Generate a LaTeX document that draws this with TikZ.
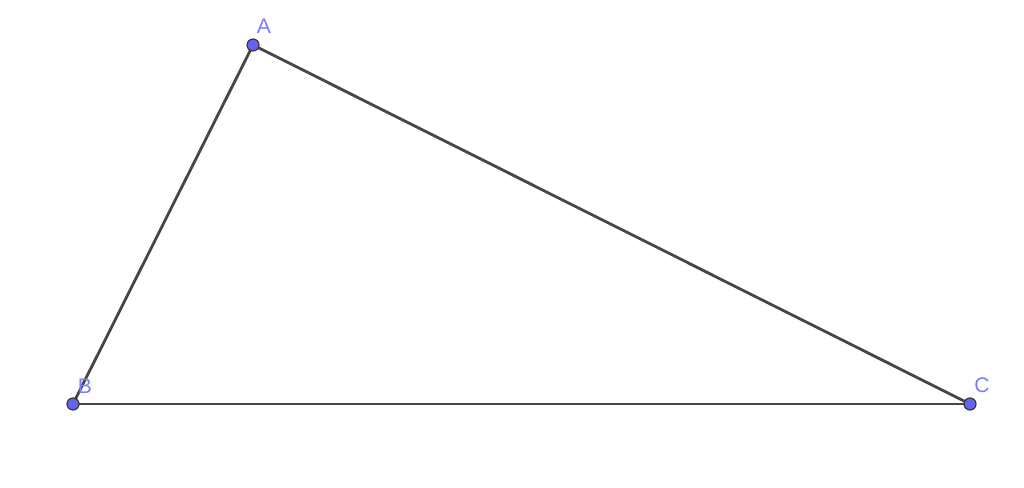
\documentclass[tikz,border=0pt]{standalone}
\usepackage{fontspec}
\setmainfont{Liberation Sans}
\definecolor{ptfill}{RGB}{100,100,240}
\definecolor{ptlabel}{RGB}{125,125,245}
\definecolor{seg}{RGB}{70,70,70}
\tikzset{
  pt/.style={circle,draw=seg!80!black,fill=ptfill,line width=0.7pt,inner sep=0pt,minimum size=0.24cm},
  ptname/.style={text=ptlabel,font=\fontsize{12}{14}\selectfont,inner sep=0pt},
  side/.style={draw=seg,line width=1.6pt}
}
\begin{document}
\begin{tikzpicture}[x=0.02cm,y=-0.02cm]
          \useasboundingbox (0,0) rectangle (1024,487);
          \coordinate (A) at (253,45);
          \coordinate (B) at (73,404);
          \coordinate (C) at (970,404);

          \draw[side] (A) -- (B);
          \draw[side] (B) -- (C);
          \draw[side] (C) -- (A);

          \node[pt] (pA) at (A) {};
          \node[pt] (pB) at (B) {};
          \node[pt] (pC) at (C) {};

          \node[ptname] (lA) at (264,26) {A};
          \node[ptname] (lB) at (85,386) {B};
          \node[ptname] (lC) at (982,385) {C};
      \end{tikzpicture}
\end{document}
